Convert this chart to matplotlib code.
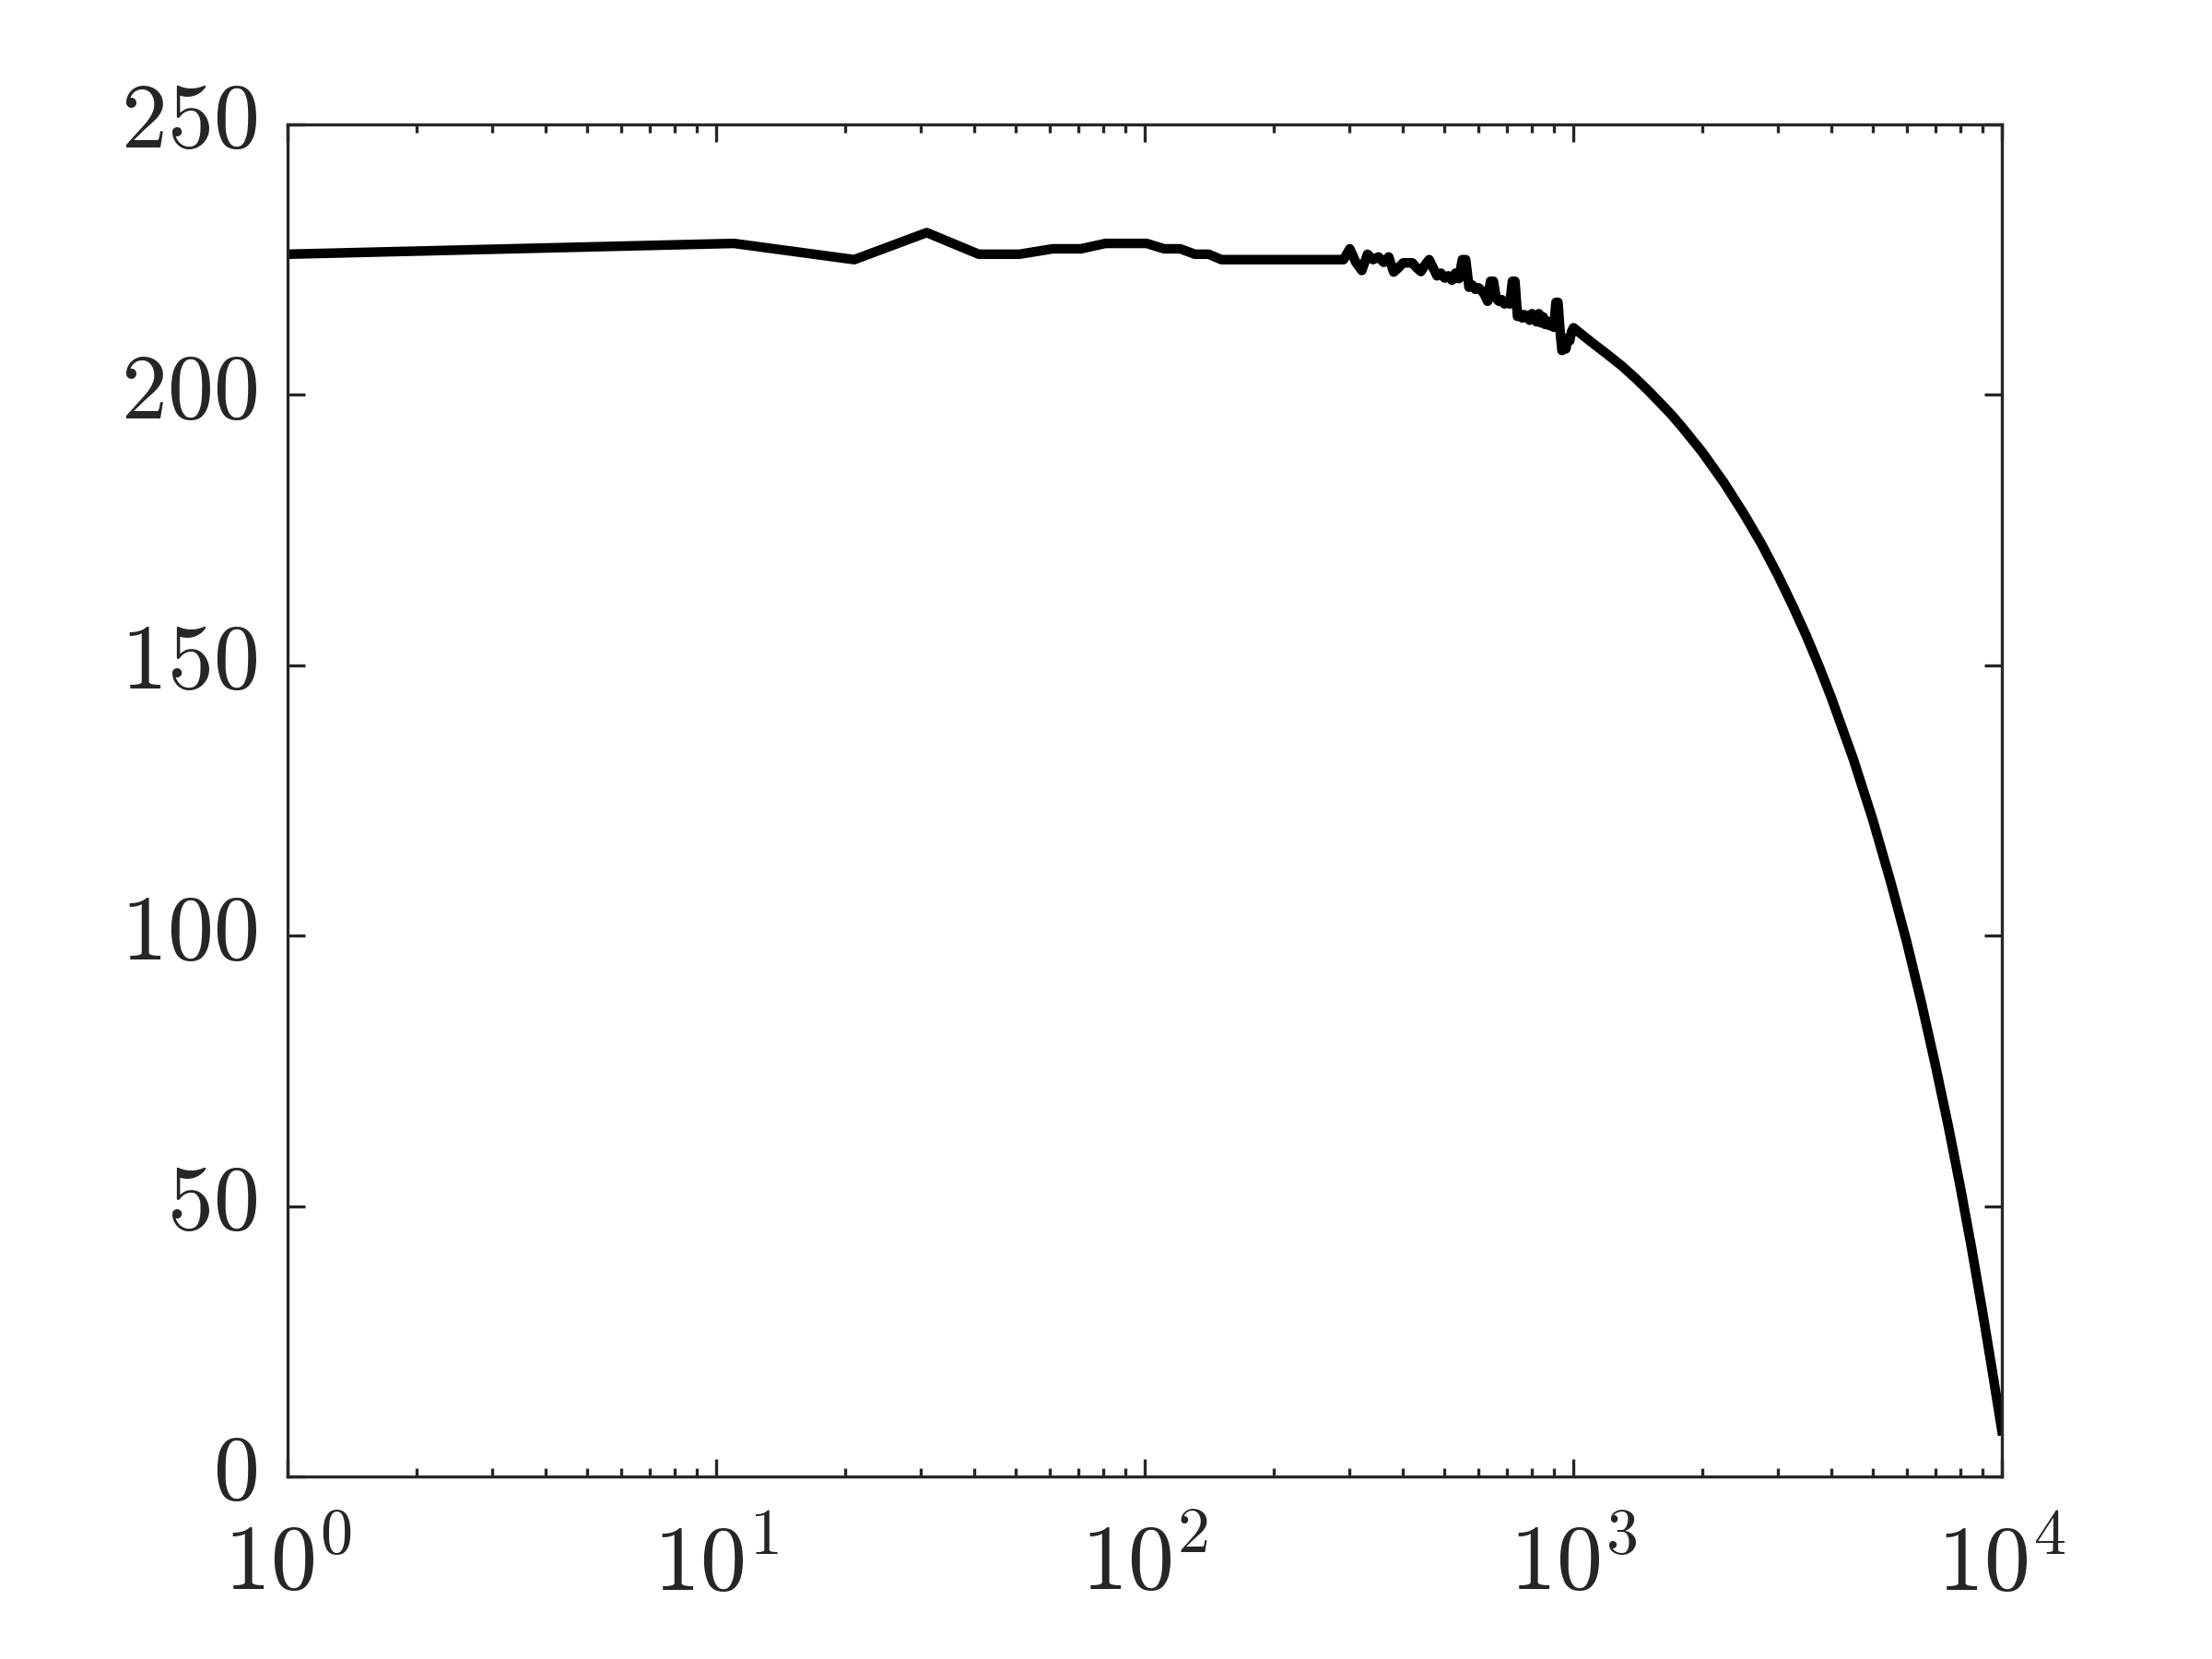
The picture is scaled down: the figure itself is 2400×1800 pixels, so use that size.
import numpy as np
import matplotlib
matplotlib.use("Agg")
import matplotlib.pyplot as plt

plt.rcParams['font.family'] = 'serif'
plt.rcParams['font.serif'] = ['cmr10']
plt.rcParams['mathtext.fontset'] = 'cm'
plt.rcParams['axes.formatter.use_mathtext'] = True

# values
# first part: samples every 10 starting at 1
y_early = [226, 228, 225, 230, 226, 226, 227, 227, 228, 228,
           228, 227, 227, 226, 226, 225, 225, 225, 225, 225,
           225, 225, 225, 225, 225, 225, 225, 225, 225, 225]
# noisy part: samples every 10 starting at 301
y_noisy = [227, 224.5, 223, 226, 225, 225.5, 224.5, 225.5, 222.7, 223.5,
           224.4, 224.4, 224.4, 223.5, 222.8, 224, 225, 223.5, 222, 222.5,
           221.6, 222, 221.2, 222.5, 221.5, 225, 225, 219.9, 220.3, 219.5,
           219.8, 219.3, 218.5, 217.3, 221, 221, 217.8, 217.3, 217.6, 216.8,
           217.2, 216.8, 221, 221, 214.5, 215, 214.2, 214.8, 214.5, 213.8,
           215, 214.3, 213.5, 215, 213.3, 214.4, 213, 213.6, 212.8, 213.4,
           212.5, 217.1, 217.1, 212, 208.2, 209.5, 208.5, 210.5, 210, 211.7,
           212.4]
# smooth tail
x_tail = [1100, 1200, 1300, 1400, 1500, 1600, 1700, 1800, 1900, 2000,
          2250, 2500, 2750, 3000, 3250, 3500, 3750, 4000, 4500, 5000,
          5500, 6000, 6500, 7000, 7500, 8000, 8500, 9000, 9500, 10000]
y_tail = [209.8, 207.5, 205.3, 203, 200.7, 198.4, 196.2, 193.9, 191.6, 189.4,
          183.7, 178, 172.4, 166.7, 161, 155.4, 149.7, 144, 132.7, 121.4,
          110, 98.8, 87.4, 76, 64.8, 53.5, 42.2, 30.8, 19.5, 8.5]

x_early = 1 + 10 * np.arange(len(y_early))
x_noisy = 301 + 10 * np.arange(len(y_noisy))

x = np.concatenate([x_early, x_noisy, x_tail])
y = np.concatenate([y_early, y_noisy, y_tail])

fig = plt.figure(figsize=(8, 6), dpi=300)
ax = fig.add_axes([0.13, 0.11, 0.775, 0.815])

ax.plot(x, y, color='k', lw=2.5)

ax.set_xscale('log')
ax.set_xlim(1, 1e4)
ax.set_ylim(0, 250)
ax.set_yticks([0, 50, 100, 150, 200, 250])
ax.set_xticks([1, 10, 100, 1000, 10000])

dark = '#262626'
for s in ax.spines.values():
    s.set_color(dark)
    s.set_linewidth(0.8)
ax.tick_params(which='both', direction='in', top=True, right=True,
               color=dark, labelcolor=dark, width=0.8, labelsize=24)
ax.tick_params(which='major', length=4.6)
ax.tick_params(axis='x', which='major', pad=12)
ax.tick_params(axis='y', which='major', pad=8)
ax.tick_params(which='minor', length=2.2)
ax.tick_params(axis='y', which='minor', left=False, right=False)
for lbl in ax.get_yticklabels():
    lbl.set_verticalalignment('center')

fig.savefig('out.png', dpi=300)
